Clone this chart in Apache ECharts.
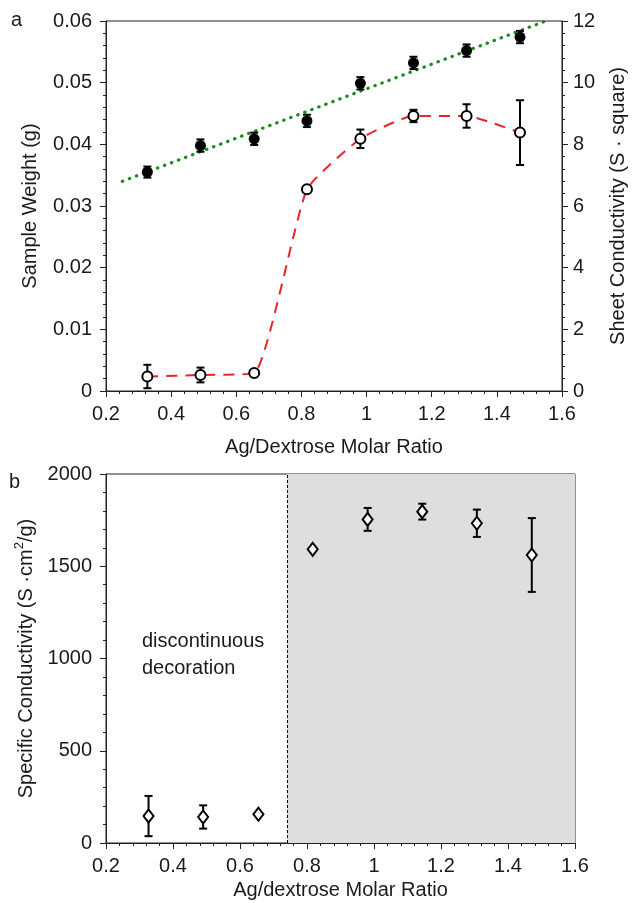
<!DOCTYPE html>
<html>
<head>
<meta charset="utf-8">
<script src="https://cdn.jsdelivr.net/npm/echarts@6/dist/echarts.min.js"></script>
<style>
html,body{margin:0;padding:0;background:#fff;}
#main{width:636px;height:903px;}
</style>
</head>
<body>
<div id="main"></div>
<script>
// ---- data ----
const ratio = [0.327, 0.490, 0.655, 0.817, 0.981, 1.144, 1.307, 1.471];
const weight = [0.0355, 0.0398, 0.0409, 0.0438, 0.0499, 0.0532, 0.0552, 0.0574];
const weightErr = [0.0009, 0.0010, 0.0010, 0.0010, 0.0010, 0.0010, 0.0010, 0.0010];
const sheet = [0.47, 0.52, 0.58, 6.54, 8.18, 8.92, 8.92, 8.38];
const sheetErr = [0.38, 0.24, 0, 0, 0.30, 0.20, 0.38, 1.05];
const specific = [146, 141, 156, 1592, 1754, 1796, 1733, 1561];
const specificErr = [109, 63, 0, 0, 62, 43, 74, 200];
const fitX = [0.25, 1.55];
const fitY = [0.034, 0.060];
const boundary = 0.74;
const xMax = 1.6;

const FONT = '"Liberation Sans", Arial, sans-serif';
const TXT = '#1a1a1a';
const AX = '#222';

function pairs(xs, ys) { return xs.map((x, i) => [x, ys[i]]); }
function errData(xs, ys, es) { return xs.map((x, i) => [x, ys[i] - es[i], ys[i] + es[i]]); }

function errRender(params, api) {
  const x = api.value(0), lo = api.value(1), hi = api.value(2);
  if (hi - lo <= 0) return null;
  const p1 = api.coord([x, lo]);
  const p2 = api.coord([x, hi]);
  const w = 4;
  const st = { stroke: '#000', lineWidth: 2 };
  return {
    type: 'group',
    children: [
      { type: 'line', shape: { x1: p1[0], y1: p1[1], x2: p2[0], y2: p2[1] }, style: st },
      { type: 'line', shape: { x1: p1[0] - w, y1: p1[1], x2: p1[0] + w, y2: p1[1] }, style: st },
      { type: 'line', shape: { x1: p2[0] - w, y1: p2[1], x2: p2[0] + w, y2: p2[1] }, style: st }
    ]
  };
}

const plainFmt = v => String(v);

function xAxisDef(gi, name, gap) {
  return {
    type: 'value', gridIndex: gi, min: 0.2, max: xMax, interval: 0.2,
    name: name, nameLocation: 'middle', nameGap: gap,
    nameTextStyle: { fontFamily: FONT, fontSize: 20, color: TXT },
    axisLine: { lineStyle: { color: AX, width: 1 } },
    axisTick: { inside: false, length: 6, lineStyle: { color: AX } },
    minorTick: { show: true, splitNumber: 5, length: 3, lineStyle: { color: AX } },
    splitLine: { show: false },
    axisLabel: { fontFamily: FONT, fontSize: 20, color: TXT, margin: 13, formatter: plainFmt }
  };
}

const chart = echarts.init(document.getElementById('main'), null, { renderer: 'canvas' });
const option = {
  backgroundColor: '#fff',
  animation: false,
  grid: [
    { left: 106, top: 21, width: 469, height: 370, show: true, borderColor: AX, borderWidth: 1, backgroundColor: 'transparent' },
    { left: 106, top: 474, width: 469, height: 369, show: true, borderColor: AX, borderWidth: 1, backgroundColor: 'transparent' }
  ],
  xAxis: [
    xAxisDef(0, 'Ag/Dextrose Molar Ratio', 46),
    xAxisDef(1, 'Ag/dextrose Molar Ratio', 37)
  ],
  yAxis: [
    {
      type: 'value', gridIndex: 0, position: 'left', min: 0, max: 0.06, interval: 0.01,
      name: 'Sample Weight (g)', nameLocation: 'middle', nameGap: 66,
      nameTextStyle: { fontFamily: FONT, fontSize: 20, color: TXT },
      axisLine: { show: true, lineStyle: { color: AX } },
      axisTick: { show: true, inside: false, length: 6, lineStyle: { color: AX } },
      minorTick: { show: true, splitNumber: 5, length: 3, lineStyle: { color: AX } },
      splitLine: { show: false },
      axisLabel: { fontFamily: FONT, fontSize: 20, color: TXT, margin: 14, formatter: plainFmt }
    },
    {
      type: 'value', gridIndex: 0, position: 'right', min: 0, max: 12, interval: 2,
      name: 'Sheet Conductivity (S · square)', nameLocation: 'middle', nameGap: 46,
      nameRotate: 90,
      nameTextStyle: { fontFamily: FONT, fontSize: 20, color: TXT },
      axisLine: { show: true, lineStyle: { color: AX } },
      axisTick: { show: true, inside: false, length: 6, lineStyle: { color: AX } },
      minorTick: { show: true, splitNumber: 5, length: 3, lineStyle: { color: AX } },
      splitLine: { show: false },
      axisLabel: { fontFamily: FONT, fontSize: 20, color: TXT, margin: 11, formatter: plainFmt }
    },
    {
      type: 'value', gridIndex: 1, position: 'left', min: 0, max: 2000, interval: 500,
      name: '{n|Specific Conductivity (S ·cm}{s|2}{n|/g)}', nameLocation: 'middle', nameGap: 66,
      nameTextStyle: {
        fontFamily: FONT, fontSize: 20, color: TXT,
        rich: {
          n: { fontFamily: FONT, fontSize: 20, color: TXT, lineHeight: 24, verticalAlign: 'bottom' },
          s: { fontFamily: FONT, fontSize: 13, color: TXT, lineHeight: 24, verticalAlign: 'top' }
        }
      },
      axisLine: { show: true, lineStyle: { color: AX } },
      axisTick: { show: true, inside: false, length: 6, lineStyle: { color: AX } },
      minorTick: { show: true, splitNumber: 5, length: 3, lineStyle: { color: AX } },
      splitLine: { show: false },
      axisLabel: { fontFamily: FONT, fontSize: 20, color: TXT, margin: 14, formatter: plainFmt }
    }
  ],
  series: [
    {
      type: 'line', xAxisIndex: 0, yAxisIndex: 0, data: pairs(fitX, fitY),
      symbol: 'none', z: 2,
      lineStyle: { color: '#1e8a1e', width: 3.2, type: [0.5, 7], cap: 'round' }
    },
    {
      type: 'custom', xAxisIndex: 0, yAxisIndex: 0, renderItem: errRender,
      data: errData(ratio, weight, weightErr), encode: { x: 0, y: [1, 2] }, z: 3
    },
    {
      type: 'scatter', xAxisIndex: 0, yAxisIndex: 0, data: pairs(ratio, weight),
      symbol: 'circle', symbolSize: 11, itemStyle: { color: '#000', opacity: 1 }, z: 4
    },
    {
      type: 'line', xAxisIndex: 0, yAxisIndex: 1, data: pairs(ratio, sheet),
      symbol: 'none', smooth: 0.15, z: 2,
      lineStyle: { color: '#e8262a', width: 2, type: [11, 8] }
    },
    {
      type: 'custom', xAxisIndex: 0, yAxisIndex: 1, renderItem: errRender,
      data: errData(ratio, sheet, sheetErr), encode: { x: 0, y: [1, 2] }, z: 3
    },
    {
      type: 'scatter', xAxisIndex: 0, yAxisIndex: 1, data: pairs(ratio, sheet),
      symbol: 'circle', symbolSize: 10,
      itemStyle: { color: '#fff', borderColor: '#000', borderWidth: 2, opacity: 1 }, z: 4
    },
    {
      type: 'line', xAxisIndex: 1, yAxisIndex: 2, data: [], symbol: 'none', z: 1,
      markArea: {
        silent: true,
        itemStyle: { color: '#dedede' },
        data: [[{ xAxis: boundary }, { xAxis: xMax }]]
      },
      markLine: {
        silent: true, symbol: 'none', label: { show: false },
        lineStyle: { color: '#000', width: 1, type: [3, 2] },
        data: [{ xAxis: boundary }]
      }
    },
    {
      type: 'custom', xAxisIndex: 1, yAxisIndex: 2, renderItem: errRender,
      data: errData(ratio, specific, specificErr), encode: { x: 0, y: [1, 2] }, z: 3
    },
    {
      type: 'scatter', xAxisIndex: 1, yAxisIndex: 2, data: pairs(ratio, specific),
      symbol: 'diamond', symbolSize: [10, 13],
      itemStyle: { color: '#fff', borderColor: '#000', borderWidth: 2, opacity: 1 }, z: 4
    }
  ],
  graphic: [
    { type: 'text', left: 11, top: 10, style: { text: 'a', font: '20px ' + FONT, fill: TXT } },
    { type: 'text', left: 9, top: 472, style: { text: 'b', font: '20px ' + FONT, fill: TXT } },
    { type: 'text', left: 142, top: 628, style: { text: 'discontinuous\ndecoration', font: '20px ' + FONT, fill: TXT, lineHeight: 27 } },
    { type: 'text', left: 335, top: 641, style: { text: 'connected coating', font: '20px ' + FONT, fill: TXT } }
  ]
};
chart.setOption(option);
</script>
</body>
</html>
